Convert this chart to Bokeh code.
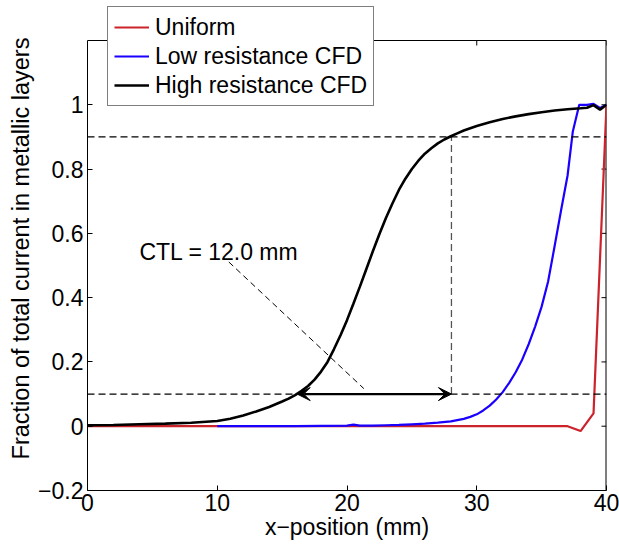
from bokeh.plotting import figure
from bokeh.models import (Range1d, FixedTicker, Legend, LegendItem,
                          Arrow, VeeHead, Span, Label)
from bokeh.embed import file_html
from bokeh.resources import INLINE

# ---------------- data ----------------
uniform_x = [0, 10, 20, 30, 37, 38, 39, 40]
uniform_y = [0.0, 0.0, 0.0, 0.0, 0.0, -0.015, 0.04, 1.0]

low_x = [10, 12, 14, 16, 18, 20, 20.5, 21, 22, 23, 24, 25, 26, 27, 28, 28.5,
         29, 29.5, 30, 30.5, 31, 31.5, 32, 32.5, 33, 33.5, 34, 34.5, 35, 35.5,
         36, 36.5, 37, 37.4, 37.9, 38.5, 39, 39.5, 40]
low_y = [0.0, 0.0, 0.0, 0.0, 0.001, 0.002, 0.005, 0.002, 0.002, 0.003, 0.004,
         0.006, 0.008, 0.011, 0.015, 0.019, 0.023, 0.029, 0.037, 0.049, 0.064,
         0.083, 0.106, 0.135, 0.168, 0.207, 0.255, 0.31, 0.372, 0.45, 0.56,
         0.672, 0.78, 0.916, 1.0, 1.0, 1.003, 0.99, 1.0]

high_x = [0, 2, 4, 6, 8, 10, 11, 12, 13, 14, 15, 15.5, 16, 16.5, 17, 17.5, 18,
          18.5, 19, 19.5, 20, 20.5, 21, 21.5, 22, 22.5, 23, 23.5, 24, 24.5, 25,
          25.5, 26, 26.5, 27, 27.5, 28, 28.5, 29, 30, 31, 32, 33, 34, 35, 36,
          37, 38, 38.5, 39, 39.5, 40]
high_y = [0.003, 0.004, 0.006, 0.008, 0.011, 0.016, 0.023, 0.033, 0.046, 0.06,
          0.077, 0.086, 0.097, 0.11, 0.125, 0.145, 0.17, 0.2, 0.24, 0.283, 0.33,
          0.382, 0.435, 0.49, 0.545, 0.598, 0.648, 0.693, 0.735, 0.77, 0.8,
          0.826, 0.848, 0.865, 0.88, 0.892, 0.902, 0.911, 0.92, 0.934, 0.946,
          0.956, 0.964, 0.971, 0.977, 0.982, 0.986, 0.989, 0.991, 0.999, 0.985,
          1.0]

series_labels = ["Uniform", "Low resistance CFD", "High resistance CFD"]

x_min, x_max = 0, 40
y_min, y_max = -0.2, 1.2
x_ticks = [0, 10, 20, 30, 40]
y_ticks = [-0.2, 0, 0.2, 0.4, 0.6, 0.8, 1.0]
y_tick_labels = ["\u22120.2", "0", "0.2", "0.4", "0.6", "0.8", "1"]

ctl_low = 0.1
ctl_high = 0.9
ctl_x_start = 16.16
ctl_x_end = 28.05
ctl_label = "CTL = 12.0 mm"
ctl_label_x = 4.0
ctl_label_y = 0.541
leader_x = [10.89, 21.3]
leader_y = [0.511, 0.117]

# ---------------- layout / style ----------------
FONT = "Liberation Sans"
FS = "23px"
RED = "#cc2229"
BLUE = "#1a00ff"
PX_PER_Y = 321.4          # frame pixels per y unit
PX_PER_X = 12.975         # frame pixels per x unit
TICK_PX = 5
TOP_PX = 6                # canvas border above the frame
head_room = (40 - TOP_PX) / PX_PER_Y  # space above the axes box for the legend

p = figure(width=619, height=544, output_backend="svg", toolbar_location=None,
           x_range=Range1d(x_min, x_max),
           y_range=Range1d(y_min, y_max + head_room),
           min_border_left=87, min_border_right=13, min_border_top=TOP_PX,
           min_border_bottom=54, outline_line_color=None,
           background_fill_color="white", border_fill_color="white")
p.xgrid.visible = False
p.ygrid.visible = False


def style_axis(ax, ticks):
    ax.ticker = FixedTicker(ticks=ticks)
    ax.major_tick_in = TICK_PX
    ax.major_tick_out = 0
    ax.minor_tick_line_color = None
    ax.axis_line_color = "black"
    ax.major_tick_line_color = "black"
    ax.major_label_text_font = FONT
    ax.major_label_text_color = "black"
    ax.major_label_text_font_size = FS
    ax.axis_label_text_font = FONT
    ax.axis_label_text_color = "black"
    ax.axis_label_text_font_style = "normal"


xa = p.xaxis[0]
style_axis(xa, x_ticks)
xa.major_label_standoff = 3
xa.axis_label = "x\u2212position (mm)"
xa.axis_label_text_font_size = FS
xa.axis_label_standoff = 0

ya = p.yaxis[0]
style_axis(ya, y_ticks)
ya.bounds = (y_min, y_max)
ya.major_label_standoff = 4
ya.major_label_overrides = {t: l for t, l in zip(y_ticks, y_tick_labels)}
ya.axis_label = "Fraction of total current in metallic layers"
ya.axis_label_text_font_size = "23.5px"
ya.axis_label_standoff = 1

# top and right edges of the axes box, with inward ticks
box_kw = dict(line_color="black", line_width=1)
p.segment(x0=[x_min], y0=[y_max], x1=[x_max], y1=[y_max], **box_kw)
p.segment(x0=[x_max], y0=[y_min], x1=[x_max], y1=[y_max],
          line_color="black", line_width=2)
p.segment(x0=x_ticks, y0=[y_max] * len(x_ticks), x1=x_ticks,
          y1=[y_max - TICK_PX / PX_PER_Y] * len(x_ticks), **box_kw)
p.segment(x0=[x_max] * len(y_ticks), y0=y_ticks,
          x1=[x_max - TICK_PX / PX_PER_X] * len(y_ticks), y1=y_ticks, **box_kw)

# reference lines
for lvl in (ctl_low, ctl_high):
    p.add_layout(Span(location=lvl, dimension="width", line_color="black",
                      line_width=1.2, line_dash="7 4"))
p.segment(x0=[ctl_x_end], y0=[ctl_low], x1=[ctl_x_end], y1=[ctl_high],
          line_color="#555555", line_width=1.3, line_dash="7 4")

# curves
r_uni = p.line(uniform_x, uniform_y, line_color=RED, line_width=2.2)
r_low = p.line(low_x, low_y, line_color=BLUE, line_width=2.2)
r_high = p.line(high_x, high_y, line_color="black", line_width=2.6)

# CTL annotation
p.line(leader_x, leader_y, line_color="black", line_width=1, line_dash="6 4")
p.add_layout(Arrow(x_start=ctl_x_start, y_start=ctl_low, x_end=ctl_x_end,
                   y_end=ctl_low, line_color="black", line_width=2.2,
                   start=VeeHead(size=13, fill_color="black", line_color="black"),
                   end=VeeHead(size=13, fill_color="black", line_color="black")))
p.add_layout(Label(x=ctl_label_x, y=ctl_label_y, text=ctl_label,
                   text_font=FONT, text_font_size=FS, text_color="black",
                   text_baseline="alphabetic"))

legend = Legend(items=[LegendItem(label=series_labels[0], renderers=[r_uni]),
                       LegendItem(label=series_labels[1], renderers=[r_low]),
                       LegendItem(label=series_labels[2], renderers=[r_high])],
                location=(20, 384), label_text_font=FONT, label_text_font_size=FS,
                label_text_color="black",
                border_line_color="black", border_line_width=1,
                background_fill_color="white", background_fill_alpha=1.0,
                padding=6, spacing=1, label_height=28, glyph_height=28,
                glyph_width=35, label_standoff=6, margin=0)
p.add_layout(legend)

open("out.html", "w").write(file_html(p, INLINE))
